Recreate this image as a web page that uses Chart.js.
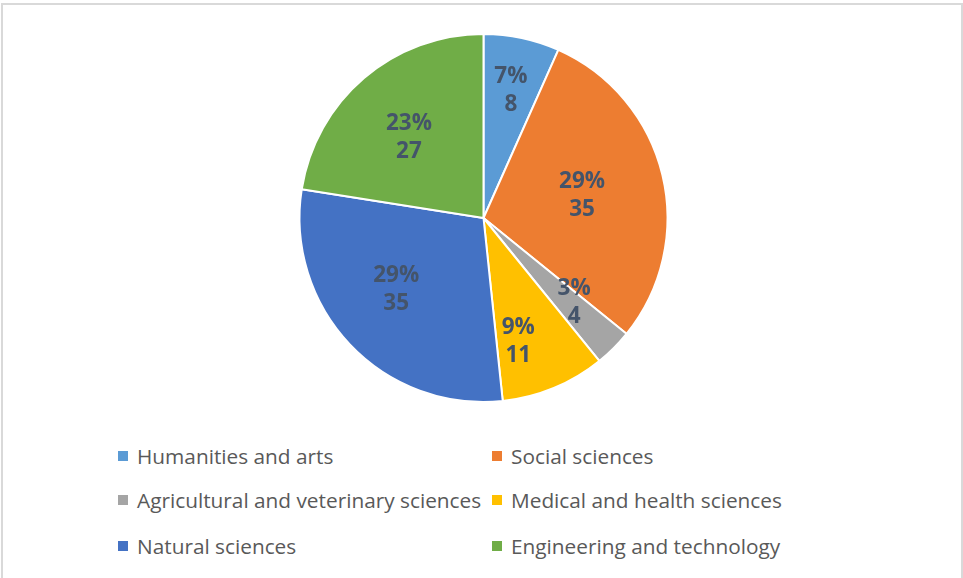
<!DOCTYPE html>
<html>
<head>
<meta charset="utf-8">
<script src="https://cdn.jsdelivr.net/npm/chart.js@4/dist/chart.umd.min.js"></script>
<style>
  body { margin: 0; background: #fff; width: 963px; height: 578px; overflow: hidden; position: relative; font-family: "Open Sans", sans-serif; }
  #frame { position: absolute; left: 1px; top: 3px; width: 958px; height: 600px; border: 2px solid #d9d9d9; border-bottom: none; }
  #pie { position: absolute; left: 0; top: 0; }
  .leg { position: absolute; font-size: 20.8px; color: #595959; white-space: nowrap; line-height: 20px; }
  .leg i { position: absolute; left: -19px; top: 5px; width: 10px; height: 10px; }
</style>
</head>
<body>
<div id="frame"></div>
<canvas id="pie" width="963" height="436"></canvas>
<div id="legend"></div>
<script>
// --- Data ---
const categories = ["Humanities and arts", "Social sciences", "Agricultural and veterinary sciences",
  "Medical and health sciences", "Natural sciences", "Engineering and technology"];
const counts = [8, 35, 4, 11, 35, 27];
const colors = ["#5B9BD5", "#ED7D31", "#A5A5A5", "#FFC000", "#4472C4", "#70AD47"];

// label placement tweaks (radius fraction, angle shift in degrees) to mimic "best fit"
const labelFit = [[0.715, 0], [0.55, 0.4], [0.67, -2.3], [0.69, 6.6], [0.61, 4.6], [0.60, -2]];

// --- Slice labels (percent + count) ---
const sliceLabels = {
  id: 'sliceLabels',
  afterDatasetsDraw(chart) {
    const ctx = chart.ctx;
    const total = counts.reduce((s, v) => s + v, 0);
    const arcs = chart.getDatasetMeta(0).data;
    ctx.save();
    ctx.font = 'bold 22.5px "Open Sans"';
    ctx.fillStyle = '#44546A';
    ctx.textAlign = 'center';
    ctx.textBaseline = 'middle';
    arcs.forEach((arc, i) => {
      const [f, shift] = labelFit[i];
      const mid = (arc.startAngle + arc.endAngle) / 2 + shift * Math.PI / 180;
      const r = arc.outerRadius * f;
      const x = arc.x + Math.cos(mid) * r;
      const y = arc.y + Math.sin(mid) * r;
      ctx.fillText(Math.round(counts[i] / total * 100) + '%', x, y - 13);
      ctx.fillText(String(counts[i]), x, y + 15);
    });
    ctx.restore();
  }
};

new Chart(document.getElementById('pie'), {
  type: 'pie',
  data: { labels: categories, datasets: [{ data: counts, backgroundColor: colors, borderColor: '#fff', borderWidth: 2 }] },
  options: {
    responsive: false,
    animation: false,
    layout: { padding: { top: 33, bottom: 33, left: 4, right: 0 } },
    plugins: { legend: { display: false }, tooltip: { enabled: false } }
  },
  plugins: [sliceLabels]
});

// --- Legend (two columns) ---
const legendEl = document.getElementById('legend');
const colX = [137, 511];
const rowY = [446, 490, 536];
categories.forEach((name, i) => {
  const div = document.createElement('div');
  div.className = 'leg';
  div.style.left = colX[i % 2] + 'px';
  div.style.top = rowY[Math.floor(i / 2)] + 'px';
  div.innerHTML = `<i style="background:${colors[i]}"></i>${name}`;
  legendEl.appendChild(div);
});
</script>
</body>
</html>
